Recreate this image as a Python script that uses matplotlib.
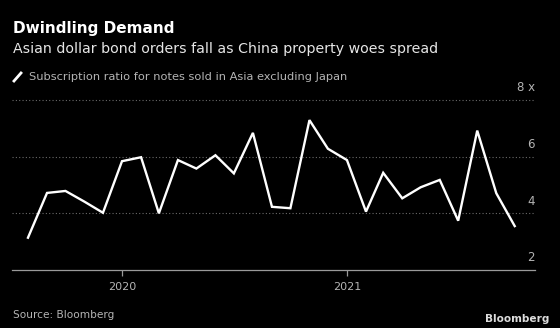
import datetime as dt
import matplotlib
matplotlib.use("Agg")
import matplotlib.pyplot as plt
import matplotlib.dates as mdates
from matplotlib import transforms
from matplotlib.lines import Line2D

# monthly subscription ratio, Aug 2019 - Oct 2021
start_year, start_month = 2019, 8
ratios = [3.14, 4.72, 4.79, 4.41, 4.02, 5.84, 5.98, 4.00, 5.88, 5.58,
          6.05, 5.41, 6.84, 4.23, 4.18, 7.29, 6.28, 5.88, 4.06, 5.43,
          4.53, 4.92, 5.18, 3.74, 6.92, 4.71, 3.55]
yticks = [2, 4, 6, 8]
ytick_labels = ["2", "4", "6", "8 x"]
xtick_years = [2020, 2021]

months = []
y, m = start_year, start_month
for _ in ratios:
    months.append(dt.date(y, m, 1))
    m += 1
    if m > 12:
        m = 1
        y += 1

BG = "black"
GREY = "#b4b4b4"

fig = plt.figure(figsize=(5.6, 3.28), dpi=100, facecolor=BG)
W, H = 560, 328
ax = fig.add_axes([12 / W, 1 - 270 / H, (535 - 12) / W, (270 - 100) / H])
ax.set_facecolor(BG)

ax.plot(months, ratios, color="white", lw=1.7, solid_joinstyle="miter", zorder=3)

ax.set_ylim(2, 8)
ax.set_xlim(dt.date(2019, 7, 6), dt.date(2021, 11, 3))

for spine in ["top", "left", "right"]:
    ax.spines[spine].set_visible(False)
ax.spines["bottom"].set_color("#9a9a9a")
ax.spines["bottom"].set_linewidth(0.9)

ax.set_xticks([dt.date(yr, 1, 1) for yr in xtick_years])
ax.xaxis.set_major_formatter(mdates.DateFormatter("%Y"))
ax.tick_params(axis="x", colors="#9a9a9a", length=4, width=0.9, pad=5,
               labelcolor=GREY, labelsize=8)

ax.yaxis.tick_right()
ax.set_yticks(yticks)
ax.set_yticklabels(ytick_labels)
ax.tick_params(axis="y", length=0, pad=0, labelcolor=GREY, labelsize=8.5)
offset = transforms.ScaledTranslation(0, 4 / 72, fig.dpi_scale_trans)
for lab in ax.get_yticklabels():
    lab.set_ha("right")
    lab.set_va("bottom")
    lab.set_transform(lab.get_transform() + offset)

for v in yticks[1:]:
    ax.axhline(v, color="#6a6a6a", lw=0.8, ls=(0, (1, 2)), zorder=1, clip_on=False)

fig.text(13 / W, 1 - 29 / H, "Dwindling Demand", color="white",
         fontsize=11, fontweight="bold", va="center", ha="left")
fig.text(13 / W, 1 - 48.5 / H,
         "Asian dollar bond orders fall as China property woes spread",
         color="#e6e6e6", fontsize=10.2, va="center", ha="left")

# legend marker (short slanted line)
fig.add_artist(Line2D([14 / W, 21 / W], [1 - 81 / H, 1 - 73 / H],
                      color="white", lw=2, transform=fig.transFigure))
fig.text(29 / W, 1 - 77 / H,
         "Subscription ratio for notes sold in Asia excluding Japan",
         color=GREY, fontsize=8.2, va="center", ha="left")

fig.text(13 / W, 1 - 315 / H, "Source: Bloomberg", color=GREY,
         fontsize=7.6, va="center", ha="left")
fig.text(549 / W, 1 - 319 / H, "Bloomberg", color="#dcdcdc",
         fontsize=7.6, fontweight="bold", va="center", ha="right")

fig.savefig("out.png", dpi=100, facecolor=BG)
